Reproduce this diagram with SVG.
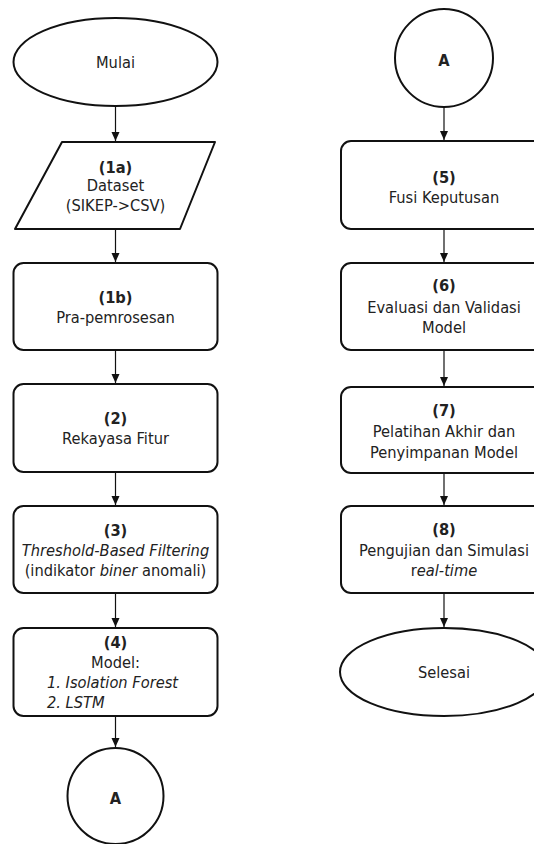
<svg xmlns="http://www.w3.org/2000/svg" width="534" height="844" viewBox="0 0 534 844">
<defs>
<style>
.s{fill:#fff;stroke:#111;stroke-width:2}
.t{font-family:"DejaVu Sans Condensed","DejaVu Sans",sans-serif;font-stretch:condensed;font-size:16.3px;fill:#222;text-anchor:middle}
.st{text-anchor:start}
.b{font-weight:bold}
.i{font-style:italic}
.c{fill:none;stroke:#111;stroke-width:1.2}
</style>
<marker id="ah" markerWidth="10" markerHeight="10" refX="9" refY="4" orient="auto" markerUnits="userSpaceOnUse">
<path d="M0,0 L9,4 L0,8 z" fill="#111"/>
</marker>
</defs>
<g id="mulai">
<ellipse class="s" cx="115.5" cy="62" rx="102" ry="44" stroke-width="1.6"/>
<text class="t" x="115.5" y="68">Mulai</text>
</g>
<g id="n1a">
<path class="s" d="M62,142 L215,142 L180,229 L15,229 Z" stroke-linejoin="round"/>
<text class="t b" x="115.5" y="173">(1a)</text>
<text class="t" x="115.5" y="191">Dataset</text>
<text class="t" x="115.5" y="211">(SIKEP-&gt;CSV)</text>
</g>
<g id="n1b">
<rect class="s" x="13.5" y="263" width="204" height="87" rx="10"/>
<text class="t b" x="115.5" y="303">(1b)</text>
<text class="t" x="115.5" y="323">Pra-pemrosesan</text>
</g>
<g id="n2">
<rect class="s" x="13.5" y="384" width="204" height="88" rx="10"/>
<text class="t b" x="115.5" y="424">(2)</text>
<text class="t" x="115.5" y="444">Rekayasa Fitur</text>
</g>
<g id="n3">
<rect class="s" x="13.5" y="506" width="204" height="87" rx="10"/>
<text class="t b" x="115.5" y="536">(3)</text>
<text class="t i" x="115.5" y="556">Threshold-Based Filtering</text>
<text class="t" x="115.5" y="576">(indikator <tspan class="i">biner</tspan> anomali)</text>
</g>
<g id="n4">
<rect class="s" x="13.5" y="628" width="204" height="88" rx="10"/>
<text class="t b" x="115.5" y="648">(4)</text>
<text class="t" x="115.5" y="668">Model:</text>
<text class="t i st" x="47" y="688">1. Isolation Forest</text>
<text class="t i st" x="47" y="708">2. LSTM</text>
</g>
<g id="connA1">
<circle class="s" cx="115.5" cy="796" r="48"/>
<text class="t b" x="115.5" y="804">A</text>
</g>
<g id="connA2">
<circle class="s" cx="444" cy="58" r="49" stroke-width="1"/>
<text class="t b" x="444" y="66">A</text>
</g>
<g id="n5">
<rect class="s" x="341" y="141" width="206" height="88" rx="10"/>
<text class="t b" x="444" y="183">(5)</text>
<text class="t" x="444" y="203">Fusi Keputusan</text>
</g>
<g id="n6">
<rect class="s" x="341" y="263" width="206" height="87" rx="10"/>
<text class="t b" x="444" y="291">(6)</text>
<text class="t" x="444" y="313">Evaluasi dan Validasi</text>
<text class="t" x="444" y="333">Model</text>
</g>
<g id="n7">
<rect class="s" x="341" y="387" width="206" height="86" rx="10"/>
<text class="t b" x="444" y="416">(7)</text>
<text class="t" x="444" y="437">Pelatihan Akhir dan</text>
<text class="t" x="444" y="458">Penyimpanan Model</text>
</g>
<g id="n8">
<rect class="s" x="341" y="506" width="206" height="87" rx="10"/>
<text class="t b" x="444" y="535">(8)</text>
<text class="t" x="444" y="556">Pengujian dan Simulasi</text>
<text class="t" x="444" y="576">r<tspan class="i">eal-time</tspan></text>
</g>
<g id="selesai">
<ellipse class="s" cx="444" cy="672" rx="104" ry="44"/>
<text class="t" x="444" y="678">Selesai</text>
</g>
<g id="connectors">
<line class="c" x1="115.5" y1="106" x2="115.5" y2="141" marker-end="url(#ah)"/>
<line class="c" x1="115.5" y1="229" x2="115.5" y2="262" marker-end="url(#ah)"/>
<line class="c" x1="115.5" y1="350" x2="115.5" y2="383" marker-end="url(#ah)"/>
<line class="c" x1="115.5" y1="472" x2="115.5" y2="505" marker-end="url(#ah)"/>
<line class="c" x1="115.5" y1="593" x2="115.5" y2="627" marker-end="url(#ah)"/>
<line class="c" x1="115.5" y1="716" x2="115.5" y2="747" marker-end="url(#ah)"/>
<line class="c" x1="444" y1="107" x2="444" y2="140" marker-end="url(#ah)"/>
<line class="c" x1="444" y1="229" x2="444" y2="262" marker-end="url(#ah)"/>
<line class="c" x1="444" y1="350" x2="444" y2="386" marker-end="url(#ah)"/>
<line class="c" x1="444" y1="473" x2="444" y2="505" marker-end="url(#ah)"/>
<line class="c" x1="444" y1="593" x2="444" y2="627" marker-end="url(#ah)"/>
</g>
</svg>
